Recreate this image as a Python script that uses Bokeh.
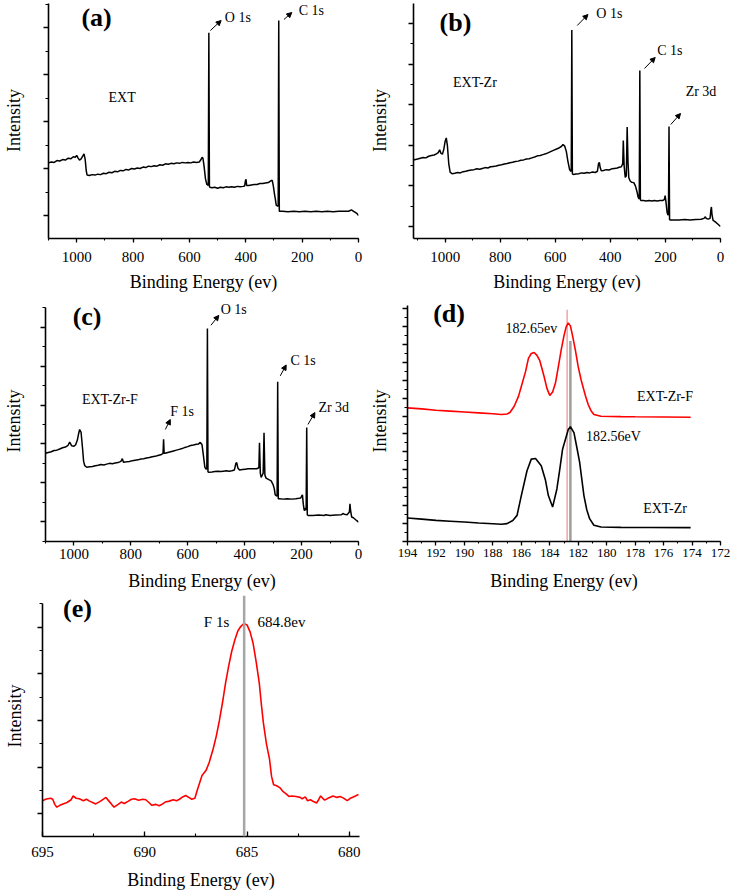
from bokeh.plotting import figure
from bokeh.layouts import column, row
from bokeh.models import (Range1d, SingleIntervalTicker, Label, Arrow, NormalHead, Span,
                          CustomJSTickFormatter)
from bokeh.themes import Theme
from bokeh.embed import file_html
from bokeh.resources import INLINE

FONT = "Liberation Serif"

# ---------------- data ----------------
# (a) EXT survey spectrum
a_energy = [1100, 1090, 1080, 1070, 1060, 1050, 1040, 1030, 1020, 1012, 1005, 1000, 995, 990, 985, 978, 974, 970,
            966, 963, 955, 945, 935, 925, 915, 905, 895, 885, 875, 865, 855, 845, 835, 825, 815, 805, 795, 785,
            775, 765, 755, 745, 735, 725, 715, 705, 695, 685, 675, 665, 655, 645, 635, 625, 615, 605, 595, 585,
            575, 565, 560, 555, 552, 548, 543, 538, 533, 531, 529, 527, 520, 510, 500, 490, 480, 470, 460, 450,
            440, 430, 420, 410, 404, 401, 399, 397, 390, 380, 370, 360, 350, 340, 330, 320, 315, 310, 306, 302,
            298, 295, 292, 287, 285, 283, 281, 270, 250, 230, 210, 190, 170, 150, 130, 110, 90, 70, 50, 35, 25,
            20, 10, 5, 0]
a_intensity = [2.12, 2.14, 2.13, 2.17, 2.16, 2.19, 2.18, 2.22, 2.21, 2.25, 2.24, 2.28, 2.22, 2.18, 2.20, 2.27, 2.31,
               2.20, 1.95, 1.86, 1.85, 1.87, 1.86, 1.88, 1.87, 1.90, 1.89, 1.92, 1.91, 1.94, 1.93, 1.96, 1.95,
               1.98, 1.97, 2.00, 1.99, 2.01, 2.00, 2.03, 2.02, 2.05, 2.04, 2.06, 2.05, 2.08, 2.07, 2.10, 2.09,
               2.11, 2.10, 2.12, 2.11, 2.13, 2.12, 2.13, 2.12, 2.14, 2.13, 2.14, 2.18, 2.24, 2.22, 2.05, 1.78,
               1.66, 1.64, 4.89, 1.62, 1.60, 1.59, 1.60, 1.58, 1.60, 1.59, 1.61, 1.60, 1.61, 1.60, 1.62, 1.61,
               1.62, 1.63, 1.75, 1.77, 1.64, 1.64, 1.65, 1.66, 1.66, 1.68, 1.68, 1.69, 1.70, 1.72, 1.74, 1.75,
               1.62, 1.45, 1.35, 1.22, 1.20, 1.21, 5.15, 1.09, 1.09, 1.08, 1.09, 1.08, 1.09, 1.08, 1.09, 1.08,
               1.09, 1.08, 1.09, 1.09, 1.09, 1.12, 1.10, 1.06, 1.04, 1.00]

# (b) EXT-Zr survey spectrum
b_energy = [1115, 1100, 1090, 1080, 1070, 1060, 1050, 1040, 1032, 1025, 1020, 1015, 1010, 1005, 1000, 996, 992, 987,
            982, 975, 965, 955, 945, 935, 925, 915, 905, 895, 885, 875, 865, 855, 845, 835, 825, 815, 805, 795,
            785, 775, 765, 755, 745, 735, 725, 715, 705, 695, 685, 675, 665, 655, 645, 635, 625, 615, 605, 595,
            585, 578, 572, 566, 560, 554, 548, 544, 542, 540, 538, 535, 525, 515, 505, 495, 485, 475, 465, 455,
            447, 443, 440, 437, 433, 425, 415, 405, 395, 385, 375, 368, 360, 355, 353, 350, 346, 342, 339, 336,
            333, 328, 323, 315, 309, 303, 299, 296, 295, 293, 291, 289, 280, 270, 260, 250, 240, 230, 220, 210,
            204, 201, 198, 194, 191, 189, 187, 185, 183, 170, 150, 130, 110, 90, 70, 60, 55, 52, 45, 38, 35, 33,
            31, 27, 20, 10, 5, 0]
b_intensity = [2.64, 2.66, 2.68, 2.70, 2.69, 2.73, 2.75, 2.76, 2.79, 2.82, 2.89, 2.80, 2.78, 2.90, 3.10, 3.18, 3.00,
               2.55, 2.34, 2.30, 2.31, 2.33, 2.32, 2.35, 2.36, 2.38, 2.39, 2.40, 2.42, 2.41, 2.43, 2.45, 2.44,
               2.47, 2.48, 2.49, 2.51, 2.52, 2.54, 2.55, 2.57, 2.58, 2.60, 2.61, 2.63, 2.64, 2.66, 2.67, 2.69,
               2.71, 2.74, 2.75, 2.77, 2.79, 2.82, 2.85, 2.88, 2.91, 2.94, 2.97, 3.02, 2.98, 2.85, 2.60, 2.40,
               2.36, 2.38, 5.84, 2.30, 2.28, 2.29, 2.30, 2.32, 2.31, 2.33, 2.32, 2.34, 2.33, 2.36, 2.55, 2.58,
               2.45, 2.37, 2.38, 2.40, 2.39, 2.42, 2.43, 2.44, 2.46, 2.47, 2.55, 3.12, 2.50, 2.21, 2.25, 3.45,
               2.60, 2.20, 2.12, 2.09, 2.08, 2.00, 1.85, 1.72, 1.68, 1.70, 4.84, 1.66, 1.64, 1.64, 1.63, 1.64,
               1.63, 1.64, 1.63, 1.64, 1.64, 1.66, 1.76, 1.60, 1.35, 1.28, 1.30, 3.46, 1.17, 1.16, 1.16, 1.16,
               1.17, 1.16, 1.17, 1.18, 1.20, 1.24, 1.20, 1.18, 1.20, 1.40, 1.48, 1.30, 1.15, 1.12, 1.06, 1.03,
               1.00]

# (c) EXT-Zr-F survey spectrum
c_energy = [1100, 1090, 1080, 1070, 1060, 1050, 1040, 1030, 1021, 1015, 1008, 1000, 994, 988, 984, 980, 975, 970,
            966, 962, 955, 945, 935, 925, 915, 905, 895, 885, 875, 865, 855, 845, 835, 830, 826, 815, 805, 795,
            785, 775, 765, 755, 745, 735, 725, 715, 705, 695, 688, 687, 685, 683, 680, 670, 660, 650, 640, 630,
            620, 610, 600, 590, 580, 570, 562, 556, 550, 545, 540, 536, 533, 531, 529, 526, 515, 505, 495, 485,
            475, 465, 455, 445, 436, 431, 428, 424, 418, 408, 398, 388, 378, 368, 358, 352, 350, 348, 345, 342,
            338, 335, 332, 329, 325, 315, 307, 300, 296, 293, 290, 286, 284, 282, 278, 265, 250, 235, 220, 210,
            203, 199, 197, 194, 191, 189, 186, 184, 182, 180, 177, 160, 140, 120, 115, 100, 80, 60, 53, 50, 40,
            32, 30, 28, 24, 18, 10, 5, 0]
c_intensity = [2.76, 2.78, 2.80, 2.83, 2.84, 2.87, 2.90, 2.92, 2.96, 3.05, 2.95, 2.94, 2.98, 3.10, 3.25, 3.37, 3.30,
               2.90, 2.55, 2.44, 2.40, 2.41, 2.42, 2.44, 2.45, 2.47, 2.46, 2.48, 2.50, 2.49, 2.51, 2.52, 2.55,
               2.62, 2.53, 2.54, 2.55, 2.57, 2.58, 2.59, 2.61, 2.62, 2.64, 2.65, 2.67, 2.68, 2.70, 2.72, 2.75,
               2.74, 3.12, 2.76, 2.76, 2.78, 2.80, 2.82, 2.84, 2.86, 2.88, 2.91, 2.93, 2.96, 2.97, 2.99, 3.00,
               3.04, 2.98, 2.70, 2.40, 2.35, 2.36, 5.97, 2.28, 2.27, 2.28, 2.29, 2.30, 2.29, 2.30, 2.31, 2.30,
               2.31, 2.33, 2.50, 2.52, 2.38, 2.33, 2.34, 2.35, 2.36, 2.36, 2.36, 2.36, 2.38, 2.40, 3.03, 2.25,
               2.14, 2.20, 2.25, 3.29, 2.20, 2.12, 2.08, 2.05, 1.95, 1.85, 1.70, 1.67, 1.66, 4.60, 1.59, 1.59,
               1.58, 1.59, 1.58, 1.59, 1.60, 1.61, 1.67, 1.69, 1.45, 1.30, 1.29, 1.35, 1.30, 3.42, 1.18, 1.16,
               1.16, 1.17, 1.16, 1.18, 1.16, 1.17, 1.18, 1.21, 1.19, 1.18, 1.25, 1.46, 1.30, 1.12, 1.10, 1.05,
               1.02, 0.99]

# (d) Zr 3d high-resolution spectra
d_energy_f = [194.0, 193.0, 192.0, 191.0, 190.0, 189.0, 188.0, 187.4, 187.0, 186.8, 186.5, 186.2, 186.0, 185.7,
              185.5, 185.3, 185.1, 184.9, 184.7, 184.4, 184.2, 184.0, 183.8, 183.6, 183.4, 183.2, 183.0, 182.85,
              182.7, 182.55, 182.4, 182.2, 182.0, 181.8, 181.5, 181.3, 181.1, 180.9, 180.4, 179.0, 178.0, 176.0,
              174.1]
d_intensity_f = [14.91, 14.80, 14.65, 14.55, 14.45, 14.35, 14.25, 14.17, 14.22, 14.40, 15.09, 16.20, 17.31, 19.00,
                 20.46, 21.00, 21.12, 20.80, 20.20, 18.43, 17.10, 16.31, 16.70, 17.69, 19.50, 21.39, 23.00, 23.98,
                 24.43, 24.10, 23.00, 21.39, 19.50, 18.06, 16.30, 15.28, 14.60, 14.17, 13.98, 13.93, 13.91, 13.89,
                 13.87]
d_energy_zr = [194.0, 193.0, 192.0, 191.0, 190.0, 189.0, 188.0, 187.4, 187.0, 186.6, 186.3, 186.0, 185.6, 185.3,
               185.0, 184.6, 184.3, 184.1, 183.8, 183.5, 183.3, 183.1, 182.7, 182.55, 182.3, 182.1, 181.9, 181.6,
               181.4, 181.2, 180.9, 180.4, 179.0, 177.0, 174.1]
d_intensity_zr = [2.58, 2.45, 2.31, 2.22, 2.13, 2.02, 1.93, 1.87, 1.95, 2.30, 2.87, 5.09, 7.87, 9.17, 9.24, 8.43,
                  6.80, 5.09, 3.80, 5.83, 8.00, 10.28, 12.50, 12.80, 12.13, 10.50, 8.80, 5.09, 3.50, 2.50, 1.76,
                  1.57, 1.53, 1.51, 1.50]
d_marker_energy = [182.78, 182.55]     # pink (EXT-Zr-F), grey (EXT-Zr)
d_marker_top = [25.9, 22.4]

# (e) F 1s high-resolution spectrum
e_energy = [695.00, 694.85, 694.75, 694.6, 694.5, 694.4, 694.3, 694.15, 694.0, 693.8, 693.6, 693.5, 693.35, 693.2,
            693.0, 692.85, 692.7, 692.55, 692.4, 692.2, 692.0, 691.9, 691.75, 691.6, 691.5, 691.3, 691.15, 691.0,
            690.8, 690.65, 690.5, 690.3, 690.1, 689.95, 689.8, 689.65, 689.45, 689.3, 689.2, 689.0, 688.8, 688.6,
            688.45, 688.3, 688.15, 688.0, 687.85, 687.7, 687.55, 687.4, 687.2, 687.0, 686.85, 686.65, 686.5,
            686.35, 686.2, 686.05, 685.9, 685.75, 685.6, 685.45, 685.3, 685.15, 685.0, 684.85, 684.7, 684.55,
            684.4, 684.3, 684.2, 684.05, 683.9, 683.8, 683.7, 683.55, 683.4, 683.25, 683.1, 682.95, 682.8, 682.6,
            682.4, 682.3, 682.15, 682.05, 681.9, 681.75, 681.6, 681.5, 681.4, 681.3, 681.2, 681.05, 680.9, 680.8,
            680.6, 680.45, 680.3, 680.1, 679.95, 679.8, 679.65, 679.55]
e_intensity = [1.28, 1.31, 1.32, 1.33, 1.31, 1.20, 1.14, 1.18, 1.21, 1.24, 1.30, 1.38, 1.33, 1.32, 1.28, 1.31, 1.27,
               1.24, 1.21, 1.26, 1.32, 1.35, 1.27, 1.19, 1.14, 1.20, 1.25, 1.22, 1.27, 1.31, 1.32, 1.29, 1.31,
               1.30, 1.24, 1.18, 1.20, 1.17, 1.19, 1.25, 1.27, 1.30, 1.28, 1.31, 1.36, 1.39, 1.35, 1.31, 1.33,
               1.55, 1.82, 1.93, 2.10, 2.40, 2.67, 3.00, 3.38, 3.80, 4.16, 4.48, 4.72, 4.92, 5.02, 5.08, 5.05,
               4.90, 4.65, 4.25, 3.80, 3.35, 2.95, 2.50, 2.17, 1.80, 1.62, 1.60, 1.56, 1.48, 1.43, 1.37, 1.38,
               1.37, 1.35, 1.32, 1.36, 1.28, 1.30, 1.26, 1.23, 1.30, 1.38, 1.33, 1.29, 1.33, 1.36, 1.38, 1.35,
               1.37, 1.34, 1.28, 1.33, 1.36, 1.39, 1.41]
e_marker = 685.14

# ---------------- layout (page pixels, page starts at 0,0) ----------------
G = {
    "a": dict(fx=0, fy=0, fw=366, fh=298, left=42, width=316, top=2, bottom=238,
              x0=1100, x1=0, y0=0.511, y1=5.532, ybt=5.51, xtick=200, ytick=1),
    "b": dict(fx=366, fy=0, fw=366, fh=298, left=405, width=315, top=2, bottom=238,
              x0=1115, x1=0, y0=0.704, y1=6.517, ybt=6.49, xtick=200, ytick=1),
    "c": dict(fx=0, fy=298, fw=366, fh=295, left=42, width=316, top=300, bottom=543,
              x0=1100, x1=0, y0=0.490, y1=6.689, ybt=6.51, xtick=200, ytick=1),
    "d": dict(fx=366, fy=298, fw=366, fh=295, left=404, width=316, top=300, bottom=543,
              x0=194, x1=172, y0=-0.056, y1=26.94, ybt=26.39, xtick=2, ytick=2),
    "e": dict(fx=0, fy=593, fw=366, fh=299, left=42, width=317, top=595, bottom=838,
              x0=695, x1=679.5, y0=0.511, y1=5.681, ybt=5.51, xtick=5, ytick=1),
}


def to_data(g, px, py):
    h = g["bottom"] - g["top"]
    x = g["x0"] + (px - g["left"]) / g["width"] * (g["x1"] - g["x0"])
    y = g["y1"] - (py - g["top"]) / h * (g["y1"] - g["y0"])
    return x, y


def make_panel(g, xfont, xstand, xlabstand, ylabstand, xtick_in=False):
    p = figure(width=g["fw"], height=g["fh"],
               x_range=Range1d(g["x0"], g["x1"]), y_range=Range1d(g["y0"], g["y1"]),
               output_backend="svg", toolbar_location=None,
               min_border_left=g["left"] - g["fx"],
               min_border_right=g["fx"] + g["fw"] - g["left"] - g["width"],
               min_border_top=g["top"] - g["fy"],
               min_border_bottom=g["fy"] + g["fh"] - g["bottom"],
               x_axis_label="Binding Energy (ev)", y_axis_label="Intensity")
    p.outline_line_color = None
    p.grid.visible = False
    p.background_fill_color = "white"
    p.border_fill_color = "white"
    xa, ya = p.xaxis[0], p.yaxis[0]
    xa.ticker = SingleIntervalTicker(interval=g["xtick"], num_minor_ticks=2)
    ya.ticker = SingleIntervalTicker(interval=g["ytick"], num_minor_ticks=2)
    ya.bounds = (g["y0"], g["ybt"])
    for ax in (xa, ya):
        ax.axis_line_color = "black"
        ax.axis_line_width = 1.6
        ax.major_tick_line_color = "black"
        ax.minor_tick_line_color = "black"
        ax.major_tick_line_width = 1.3
        ax.minor_tick_line_width = 1.1
        ax.axis_label_text_color = "black"
        ax.major_label_text_color = "black"
    ya.major_tick_out = 5
    ya.major_tick_in = 0
    ya.minor_tick_out = 3
    ya.minor_tick_in = 0
    ya.formatter = CustomJSTickFormatter(code="return ''")
    ya.axis_label_standoff = ylabstand
    if xtick_in:
        xa.major_tick_out, xa.major_tick_in, xa.minor_tick_out, xa.minor_tick_in = 0, 5, 0, 3
    else:
        xa.major_tick_out, xa.major_tick_in, xa.minor_tick_out, xa.minor_tick_in = 4, 0, 2, 0
    xa.major_label_standoff = xstand
    xa.axis_label_standoff = xlabstand
    # fonts set last, through the splattable accessor
    p.axis.axis_label_text_font = FONT
    p.axis.major_label_text_font = FONT
    p.axis.axis_label_text_font_style = "normal"
    p.axis.axis_label_text_font_size = "18px"
    p.xaxis.major_label_text_font_size = xfont
    return p


def add_text(p, g, text, px, py, size="14px", bold=False):
    x, y = to_data(g, px, py)
    p.add_layout(Label(x=x, y=y, text=text, text_font=FONT, text_font_size=size,
                       text_font_style="bold" if bold else "normal", text_color="black",
                       text_align="center", text_baseline="middle"))


def add_arrow(p, g, px0, py0, px1, py1):
    x0, y0 = to_data(g, px0, py0)
    x1, y1 = to_data(g, px1, py1)
    p.add_layout(Arrow(end=NormalHead(size=5, fill_color="black", line_color="black", line_width=1),
                       x_start=x0, y_start=y0, x_end=x1, y_end=y1, line_color="black", line_width=1))


# (a)
ga = G["a"]
pa = make_panel(ga, "15px", 9, 7, 20)
pa.line(a_energy, a_intensity, line_color="black", line_width=1.5)
add_text(pa, ga, "(a)", 91, 17, "26px", True)
add_text(pa, ga, "O 1s", 235, 17)
add_arrow(pa, ga, 207, 30, 218, 20)
add_text(pa, ga, "C 1s", 310, 10)
add_arrow(pa, ga, 282, 19, 290, 12)
add_text(pa, ga, "EXT", 117, 97)

# (b)
gb = G["b"]
pb = make_panel(gb, "15px", 9, 7, 19)
pb.line(b_energy, b_intensity, line_color="black", line_width=1.5)
add_text(pb, gb, "(b)", 448, 22, "26px", True)
add_text(pb, gb, "O 1s", 606, 13)
add_arrow(pb, gb, 573, 25, 584, 14)
add_text(pb, gb, "C 1s", 668, 50)
add_arrow(pb, gb, 642, 68, 653, 57)
add_text(pb, gb, "Zr 3d", 700, 91)
add_arrow(pb, gb, 669, 124, 679, 113)
add_text(pb, gb, "EXT-Zr", 468, 82)

# (c)
gc = G["c"]
pc = make_panel(gc, "15px", 3, 9, 17)
pc.line(c_energy, c_intensity, line_color="black", line_width=1.5)
add_text(pc, gc, "(c)", 84, 316, "26px", True)
add_text(pc, gc, "O 1s", 232, 309)
add_arrow(pc, gc, 209, 325, 217, 315)
add_text(pc, gc, "C 1s", 302, 360)
add_arrow(pc, gc, 279, 376, 285, 365)
add_text(pc, gc, "Zr 3d", 333, 408)
add_arrow(pc, gc, 307, 425, 314, 413)
add_text(pc, gc, "F 1s", 180, 412)
add_arrow(pc, gc, 163, 430, 168, 420)
add_text(pc, gc, "EXT-Zr-F", 107, 400)

# (d)
gd = G["d"]
pd = make_panel(gd, "13px", 3, 11, 13)
pd.segment(x0=d_marker_energy, y0=[gd["y0"]] * 2, x1=d_marker_energy, y1=d_marker_top,
           line_color=["#F4A3A3", "#9E9E9E"], line_width=[1.5, 2.5])
pd.line(d_energy_f, d_intensity_f, line_color="#FF0000", line_width=1.6)
pd.line(d_energy_zr, d_intensity_zr, line_color="black", line_width=1.6)
add_text(pd, gd, "(d)", 446, 313, "26px", True)
add_text(pd, gd, "182.65ev", 529, 328)
add_text(pd, gd, "182.56eV", 612, 437)
add_text(pd, gd, "EXT-Zr-F", 664, 397)
add_text(pd, gd, "EXT-Zr", 664, 510)

# (e)
ge = G["e"]
pe = make_panel(ge, "15px", 10, 10, 13, xtick_in=True)
pe.add_layout(Span(location=e_marker, dimension="height", line_color="#A6A6A6", line_width=2.5))
pe.line(e_energy, e_intensity, line_color="#FF0000", line_width=1.6)
add_text(pe, ge, "(e)", 77, 608, "26px", True)
add_text(pe, ge, "F 1s", 216, 622, "15px")
add_text(pe, ge, "684.8ev", 281, 622, "15px")

theme = Theme(json={"attrs": {"Axis": {"axis_label_text_font": FONT, "major_label_text_font": FONT}}})
layout = column(row(pa, pb), row(pc, pd), pe)
open("out.html", "w").write(file_html(layout, INLINE, theme=theme))
